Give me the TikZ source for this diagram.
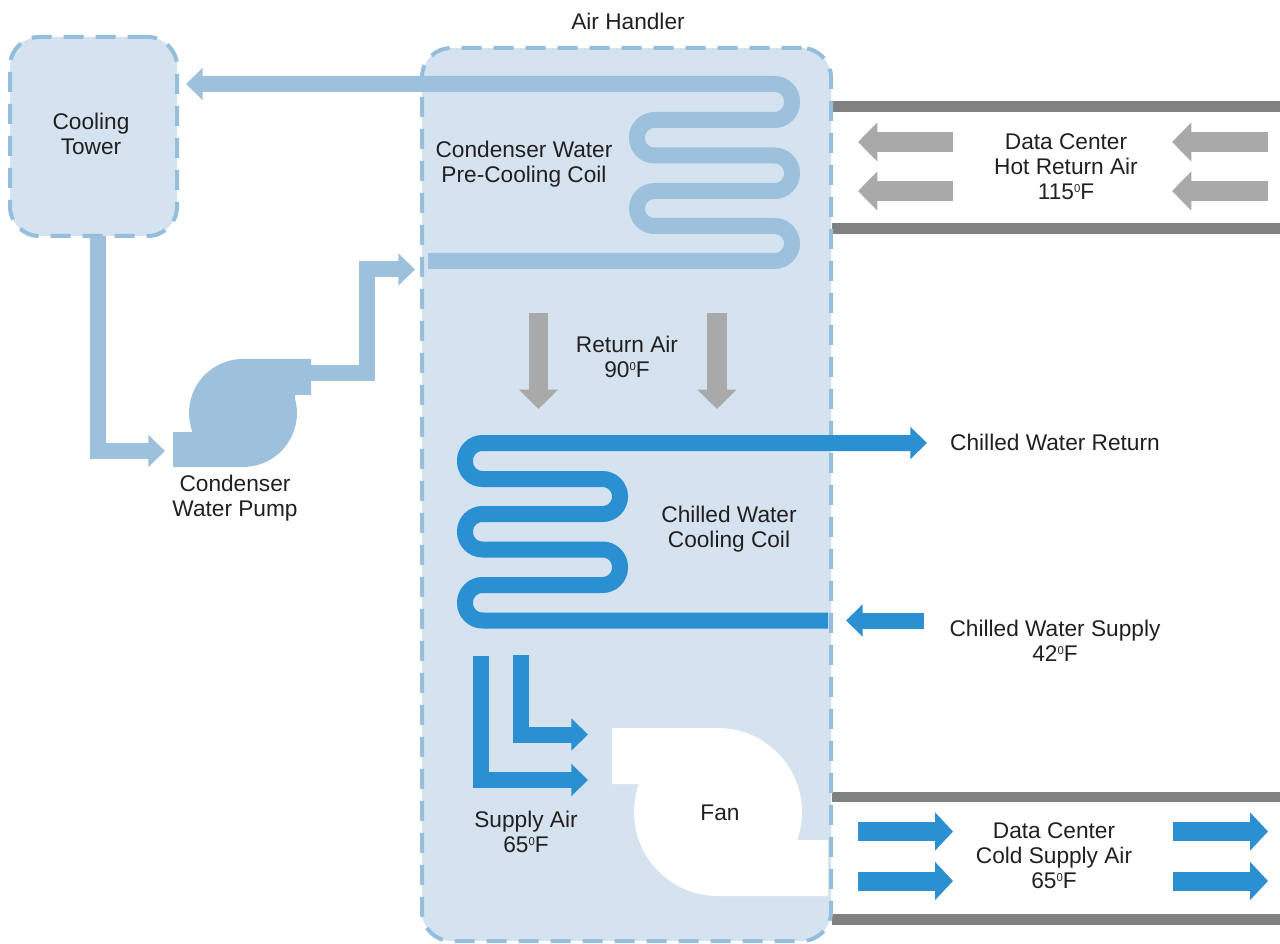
\documentclass[tikz,border=0pt]{standalone}
\usepackage{fontspec}
\setmainfont{Liberation Sans}
\usetikzlibrary{arrows.meta}
\definecolor{panel}{HTML}{D5E3F1}
\definecolor{dashc}{HTML}{94BEDB}
\definecolor{lightpipe}{HTML}{9DC1DD}
\definecolor{bluepipe}{HTML}{2A90D2}
\definecolor{grayarrow}{HTML}{A9A9A9}
\definecolor{ductc}{HTML}{818181}
\definecolor{textc}{HTML}{231F20}
\newcommand{\tempsup}{\raisebox{5.5pt}{\fontsize{8.5}{9}\selectfont 0}}
\tikzset{
  x=0.75pt,y=-0.75pt,
  box/.style={draw=dashc,fill=panel,line width=3pt,dash pattern=on 15pt off 9pt,rounded corners=22pt,inner sep=0pt,outer sep=0pt},
  lbl/.style={align=center,text=textc,font=\fontsize{17}{18.75}\selectfont,inner sep=0pt},
  coolpipe/.style={draw=lightpipe,line width=12pt,line join=miter},
  chillpipe/.style={draw=bluepipe,line width=12pt,line join=miter},
  coolarrow/.style={coolpipe,-{Triangle[length=12.5pt,width=23.5pt]}},
  chillarrow/.style={chillpipe,-{Triangle[length=12.5pt,width=23.5pt]}},
  coil/.style={rounded corners=13.1pt},
  airarrow/.style={draw=grayarrow,line width=14.5pt,-{Triangle[length=14.5pt,width=28.5pt]}},
  coldarrow/.style={draw=bluepipe,line width=14.25pt,-{Triangle[length=13.5pt,width=28pt]}},
  duct/.style={draw=ductc,line width=8pt},
}
\begin{document}
\begin{tikzpicture}
\useasboundingbox (0,0) rectangle (1280,944);
% ducts
\coordinate (d1a) at (832,106.5); \coordinate (d1b) at (1280,106.5);
\coordinate (d2a) at (832,228.5); \coordinate (d2b) at (1280,228.5);
\coordinate (d3a) at (832,797); \coordinate (d3b) at (1280,797);
\coordinate (d4a) at (832,919.5); \coordinate (d4b) at (1280,919.5);
\draw[duct] (d1a) -- (d1b);
\draw[duct] (d2a) -- (d2b);
\draw[duct] (d3a) -- (d3b);
\draw[duct] (d4a) -- (d4b);
% boxes
\node[box,minimum width=125.25pt,minimum height=149.25pt] (tower) at (93.5,136.5) {};
\node[box,minimum width=306.75pt,minimum height=669.75pt] (handler) at (626.5,494.5) {};
% pump
\coordinate (pumpin) at (165,451);
\coordinate (pumpout) at (311,373);
\fill[lightpipe] (173,467) -- (243,467) arc[start angle=90,end angle=-15,radius=54] -- (295,395) -- (311,395) -- (311,359) -- (243,359) arc[start angle=-90,end angle=-200,radius=54] -- (192,432) -- (173,432) -- cycle;
% fan
\fill[white] (612,728) -- (718,728) arc[start angle=-90,end angle=20,radius=84] -- (799,840) -- (828,840) -- (828,896) -- (718,896) arc[start angle=90,end angle=198,radius=84] -- (638,784) -- (612,784) -- cycle;
% condenser loop
\coordinate (towerout) at (97.5,236);
\coordinate (t1) at (97.5,451);
\draw[coolarrow] (towerout) -- (t1) -- (pumpin);
\coordinate (p1) at (367,373);
\coordinate (p2) at (367,269.5);
\coordinate (p3) at (415,269.5);
\draw[coolarrow] (pumpout) -- (p1) -- (p2) -- (p3);
\coordinate (coilAin) at (428,261);
\coordinate (towerin) at (186,84);
\draw[coolarrow,coil] (coilAin) -- (792,261) -- (792,226) -- (637,226) -- (637,191) -- (792,191) -- (792,155.5) -- (637,155.5) -- (637,120) -- (792,120) -- (792,84) -- (towerin);
% chilled coil
\coordinate (chillin) at (828,620.5);
\coordinate (chillout) at (927,443);
\draw[chillarrow,coil] (chillin) -- (465,620.5) -- (465,585) -- (620,585) -- (620,549.5) -- (465,549.5) -- (465,514) -- (620,514) -- (620,479) -- (465,479) -- (465,443) -- (chillout);
\coordinate (supA) at (924,620.5);
\coordinate (supB) at (846,620.5);
\draw[chillarrow] (supA) -- (supB);
% return air
\coordinate (ra1a) at (538.5,313); \coordinate (ra1b) at (538.5,409);
\coordinate (ra2a) at (717,313); \coordinate (ra2b) at (717,409);
\draw[airarrow] (ra1a) -- (ra1b);
\draw[airarrow] (ra2a) -- (ra2b);
% supply air
\coordinate (sa1a) at (481,656); \coordinate (sa1b) at (481,780); \coordinate (sa1c) at (588,780);
\coordinate (sa2a) at (521,655); \coordinate (sa2b) at (521,734.5); \coordinate (sa2c) at (588,734.5);
\draw[chillarrow] (sa1a) -- (sa1b) -- (sa1c);
\draw[chillarrow] (sa2a) -- (sa2b) -- (sa2c);
% hot return arrows
\coordinate (h1a) at (953,142); \coordinate (h1b) at (858,142);
\coordinate (h2a) at (953,191); \coordinate (h2b) at (858,191);
\coordinate (h3a) at (1268,142); \coordinate (h3b) at (1172,142);
\coordinate (h4a) at (1268,191); \coordinate (h4b) at (1172,191);
\draw[airarrow] (h1a) -- (h1b);
\draw[airarrow] (h2a) -- (h2b);
\draw[airarrow] (h3a) -- (h3b);
\draw[airarrow] (h4a) -- (h4b);
% cold supply arrows
\coordinate (c1a) at (858,831.5); \coordinate (c1b) at (953,831.5);
\coordinate (c2a) at (858,881); \coordinate (c2b) at (953,881);
\coordinate (c3a) at (1173,831.5); \coordinate (c3b) at (1268,831.5);
\coordinate (c4a) at (1173,881); \coordinate (c4b) at (1268,881);
\draw[coldarrow] (c1a) -- (c1b);
\draw[coldarrow] (c2a) -- (c2b);
\draw[coldarrow] (c3a) -- (c3b);
\draw[coldarrow] (c4a) -- (c4b);
% labels
\node[lbl] (lAH) at (628,21) {Air Handler};
\node[lbl] (lCT) at (91,133.5) {Cooling\\Tower};
\node[lbl] (lPC) at (524,164.5) {Condenser Water\\Pre-Cooling Coil};
\node[lbl] (lHR) at (1066,167) {Data Center\\Hot Return Air\\115\tempsup F};
\node[lbl] (lRA) at (627,357) {Return Air\\90\tempsup F};
\node[lbl] (lCR) at (1055,442.5) {Chilled Water Return};
\node[lbl] (lCC) at (729,529.5) {Chilled Water\\Cooling Coil};
\node[lbl] (lCS) at (1055,641) {Chilled Water Supply\\42\tempsup F};
\node[lbl] (lCP) at (235,498.5) {Condenser\\Water Pump};
\node[lbl] (lSA) at (526,832) {Supply Air\\65\tempsup F};
\node[lbl] (lFan) at (720,813) {Fan};
\node[lbl] (lCA) at (1054,856) {Data Center\\Cold Supply Air\\65\tempsup F};
\end{tikzpicture}
\end{document}
